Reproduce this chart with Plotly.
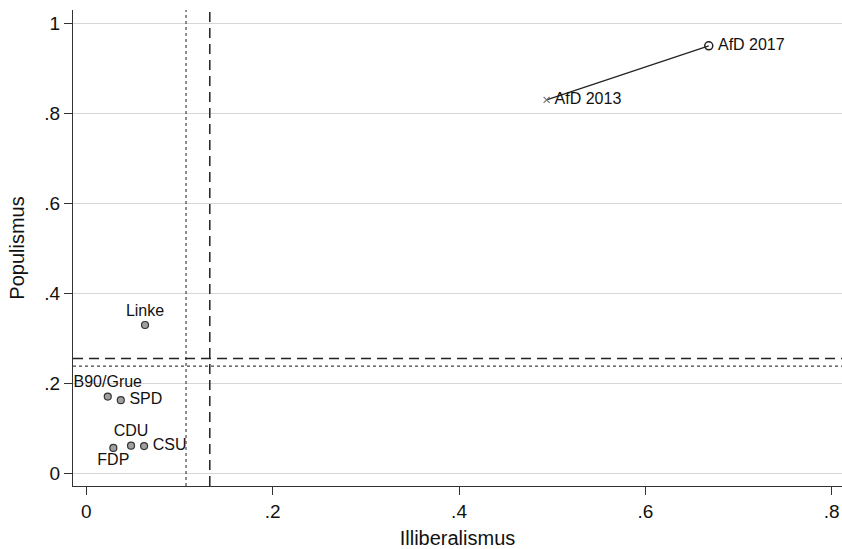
import plotly.graph_objects as go

# Data
parties = ["Linke", "B90/Grue", "SPD", "CDU", "CSU", "FDP"]
illib = [0.063, 0.023, 0.037, 0.048, 0.062, 0.029]
popul = [0.330, 0.171, 0.163, 0.062, 0.061, 0.057]
label_pos = ["top center", "top center", "middle right", "top center", "middle right", "bottom center"]

afd_labels = ["AfD 2013", "AfD 2017"]
afd_illib = [0.494, 0.668]
afd_popul = [0.830, 0.950]

# reference lines
vline_dashed = 0.1325
vline_dotted = 0.107
hline_dashed = 0.2556
hline_dotted = 0.2385

x_ticks = [0, 0.2, 0.4, 0.6, 0.8]
x_ticklabels = ["0", ".2", ".4", ".6", ".8"]
y_ticks = [0, 0.2, 0.4, 0.6, 0.8, 1.0]
y_ticklabels = ["0", ".2", ".4", ".6", ".8", "1"]

FONT = "Liberation Sans, Arial, Helvetica, sans-serif"

party_text = [("\u2009" + p) if pos == "middle right" else p for p, pos in zip(parties, label_pos)]

fig = go.Figure()

# AfD line
fig.add_trace(go.Scatter(
    x=afd_illib, y=afd_popul, mode="lines",
    line=dict(color="#222222", width=1.2),
    hoverinfo="skip", showlegend=False))

fig.add_trace(go.Scatter(
    x=afd_illib[:1], y=afd_popul[:1], mode="markers+text",
    text=["\u2009" + afd_labels[0]], textposition="middle right",
    textfont=dict(family=FONT, size=16, color="#111111"),
    marker=dict(symbol="x-thin", size=6, line=dict(color="#777777", width=1.3)),
    showlegend=False))

fig.add_trace(go.Scatter(
    x=afd_illib[1:], y=afd_popul[1:], mode="markers+text",
    text=["\u2009" + afd_labels[1]], textposition="middle right",
    textfont=dict(family=FONT, size=16, color="#111111"),
    marker=dict(symbol="circle-open", size=8, color="#222222", line=dict(width=1.5)),
    showlegend=False))

fig.add_trace(go.Scatter(
    x=illib, y=popul, mode="markers+text",
    text=party_text, textposition=label_pos,
    textfont=dict(family=FONT, size=16, color="#111111"),
    marker=dict(symbol="circle", size=7, color="#a0a0a0",
                line=dict(color="#333333", width=1.2)),
    showlegend=False))

# reference lines
fig.add_shape(type="line", xref="x", yref="paper", x0=vline_dashed, x1=vline_dashed, y0=0, y1=1,
              line=dict(color="#222222", width=1.5, dash="10px,6px"))
fig.add_shape(type="line", xref="x", yref="paper", x0=vline_dotted, x1=vline_dotted, y0=0, y1=1,
              line=dict(color="#444444", width=1.2, dash="dot"))
fig.add_shape(type="line", xref="paper", yref="y", x0=0, x1=1, y0=hline_dashed, y1=hline_dashed,
              line=dict(color="#222222", width=1.5, dash="10px,6px"))
fig.add_shape(type="line", xref="paper", yref="y", x0=0, x1=1, y0=hline_dotted, y1=hline_dotted,
              line=dict(color="#444444", width=1.2, dash="dot"))

fig.update_layout(
    width=842, height=549,
    margin=dict(l=73, r=0, t=10, b=63),
    paper_bgcolor="white", plot_bgcolor="white",
    font=dict(family=FONT, color="#111111"),
    xaxis=dict(
        range=[-0.0143, 0.811], tickvals=x_ticks, ticktext=x_ticklabels,
        showgrid=False, zeroline=False, showline=True, linecolor="#333333", linewidth=1.2,
        ticks="outside", ticklen=8, tickcolor="#333333", tickwidth=1.2,
        tickfont=dict(size=19, family=FONT, color="#111111"),
        title=dict(text="Illiberalismus", font=dict(size=20, family=FONT, color="#111111"), standoff=12),
        automargin=False,
    ),
    yaxis=dict(
        range=[-0.0276, 1.0296], tickvals=y_ticks, ticktext=y_ticklabels,
        showgrid=True, gridcolor="#d6d6d6", gridwidth=1.2, zeroline=False,
        showline=True, linecolor="#333333", linewidth=1.2,
        ticks="outside", ticklen=8, tickcolor="#333333", tickwidth=1.2,
        tickfont=dict(size=19, family=FONT, color="#111111"),
        title=dict(text="Populismus", font=dict(size=20, family=FONT, color="#111111"), standoff=14),
        automargin=False,
    ),
)

fig.write_html("out.html", config={"displayModeBar": False},
               post_script="document.body.style.margin='0';document.body.style.overflow='hidden';")
